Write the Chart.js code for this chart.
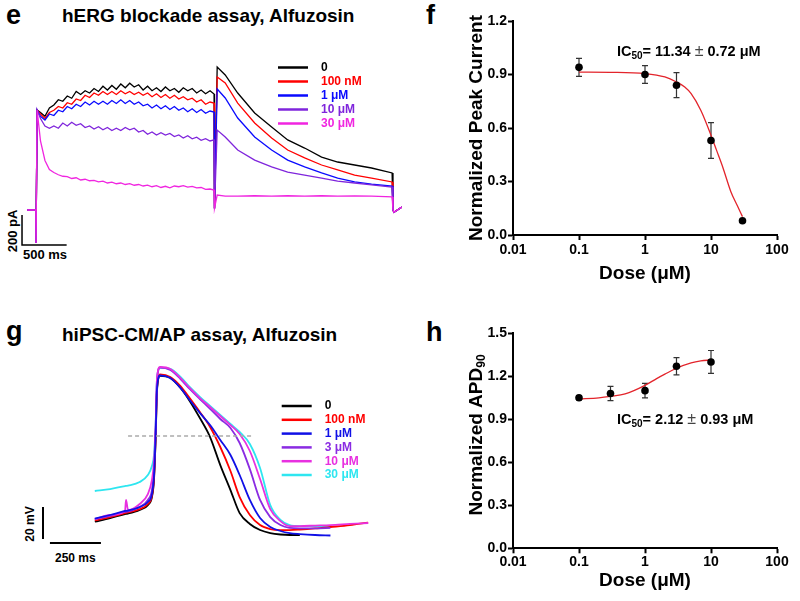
<!DOCTYPE html>
<html>
<head>
<meta charset="utf-8">
<script src="https://cdn.jsdelivr.net/npm/chart.js@4.4.1/dist/chart.umd.min.js"></script>
<style>
  body { margin: 0; background: #fff; width: 800px; height: 601px; position: relative; overflow: hidden;
         font-family: 'Liberation Sans', Arial, sans-serif; }
  canvas { position: absolute; }
  .t { position: absolute; font-weight: bold; white-space: nowrap; line-height: 1; color: #000; }
  .rot { transform: translate(-50%, -50%) rotate(-90deg); }
</style>
</head>
<body>
<div class="t" style="left:6px;top:2px;font-size:27px">e</div>
<div class="t" style="left:62px;top:6px;font-size:19px">hERG blockade assay, Alfuzosin</div>
<div class="t" style="left:426px;top:2px;font-size:27px">f</div>
<div class="t" style="left:6px;top:318px;font-size:27px">g</div>
<div class="t" style="left:62px;top:325px;font-size:19px">hiPSC-CM/AP assay, Alfuzosin</div>
<div class="t" style="left:426px;top:319px;font-size:27px">h</div>
<div class="t rot" style="left:12px;top:231px;font-size:13px">200 pA</div>
<div class="t" style="left:23px;top:248px;font-size:13px">500 ms</div>
<div class="t rot" style="left:30px;top:524px;font-size:12px">20 mV</div>
<div class="t" style="left:55px;top:552px;font-size:12px">250 ms</div>

<canvas id="herg" width="384" height="195" style="left:18px;top:60px"></canvas>
<canvas id="ic50" width="400" height="300" style="left:400px;top:0px"></canvas>
<canvas id="ap" width="367" height="208" style="left:33px;top:351px"></canvas>
<canvas id="apd" width="400" height="300" style="left:400px;top:300px"></canvas>

<script>
// ---- panel e: hERG current traces (ms, pA) ----
const hergTime = [-100, -2, 0, 12,
  50, 100, 150, 200, 250, 300, 350, 400, 450, 500, 550, 600, 650, 700, 750, 800, 850, 900, 950, 1000,
  1050, 1100, 1150, 1200, 1250, 1300, 1350, 1400, 1450, 1500, 1550, 1600, 1650, 1700, 1750, 1800, 1850, 1900, 1950,
  1995, 2000, 2030, 2120, 2260, 2450, 2640, 2820, 3010, 3200, 3380, 3570, 3760, 3990, 4000, 4010, 4100];
const herg0 = [0, 0, -220, 667,
  650, 625, 680, 700, 735, 725, 760, 745, 790, 770, 795, 780, 810, 790, 825, 800, 830, 805, 840, 815,
  845, 820, 835, 800, 825, 795, 815, 790, 820, 795, 810, 785, 815, 795, 810, 780, 800, 775, 795,
  773, 10, 953, 900, 780, 647, 553, 467, 413, 353, 320, 300, 280, 247, 0, -15, 20];
const herg100nM = [0, 0, -220, 667,
  640, 610, 650, 665, 690, 680, 715, 705, 740, 730, 765, 750, 780, 765, 790, 770, 790, 770, 795, 775,
  790, 770, 785, 765, 780, 755, 775, 750, 770, 745, 765, 740, 755, 735, 745, 720, 735, 705, 720,
  713, 10, 887, 847, 713, 580, 480, 400, 347, 300, 267, 233, 213, 187, 0, -15, 20];
const herg1uM = [0, 0, -220, 667,
  625, 600, 640, 630, 665, 655, 690, 675, 705, 690, 720, 700, 725, 705, 725, 705, 730, 710, 735, 710,
  730, 705, 720, 695, 705, 680, 700, 675, 695, 670, 690, 665, 680, 655, 675, 650, 670, 645, 660,
  653, 10, 807, 747, 613, 487, 400, 333, 287, 247, 213, 187, 173, 160, 0, -15, 20];
const herg10uM = [0, 0, -220, 667,
  610, 560, 545, 560, 545, 580, 560, 585, 565, 575, 550, 560, 540, 555, 535, 550, 530, 545, 530, 550,
  535, 545, 520, 530, 505, 520, 500, 515, 500, 510, 490, 500, 480, 495, 475, 485, 465, 475, 460,
  467, 10, 533, 487, 400, 333, 287, 253, 233, 213, 193, 180, 167, 153, 0, -15, 20];
const herg30uM = [0, 0, -220, 667,
  460, 330, 270, 250, 235, 225, 222, 210, 215, 200, 205, 195, 198, 188, 192, 180, 186, 175, 180, 170,
  176, 165, 170, 160, 166, 155, 162, 150, 158, 148, 160, 155, 162, 152, 158, 148, 150, 138, 140,
  133, 13, 100, 93, 93, 95, 92, 95, 93, 95, 92, 94, 92, 87, 0, -15, 20];
const hergLabels = ['0', '100 nM', '1 μM', '10 μM', '30 μM'];
const hergBarTime = [-157, -157, 343];   // 500 ms
const hergBarAmp = [-33, -233, -233];    // 200 pA

// ---- panel f: peak current vs dose ----
const doseF = [0.1, 1, 3, 10, 30];
const peakF = [0.94, 0.90, 0.84, 0.53, 0.08];
const semF = [0.05, 0.05, 0.07, 0.10, 0];
const fitDoseF = [0.1, 0.3, 1, 2, 3, 4, 5, 7, 10, 12, 15, 20, 25, 30];
const fitPeakF = [0.913, 0.912, 0.905, 0.886, 0.858, 0.83, 0.793, 0.70, 0.56, 0.48, 0.383, 0.243, 0.165, 0.103];

// ---- panel g: action potentials (ms, mV) ----
const apTime = [-295, -220, -147, -142, -132, -75, -35, -15, -5, 3, 10, 25, 75, 125, 170, 220, 270, 320, 370, 415,
  465, 515, 565, 615, 660, 710, 785, 860, 955, 1045];
const ap0 = [-66.7, -64.4, -61.9, -61.8, -61.6, -59.4, -56.3, -51.3, -40.6, -15.6, 15.6, 24.4, 23.1, 16.9, 8.8, -1.9, -13.8, -31.3, -46.9, -61.3,
  -68.1, -71.9, -73.8, -74.7, -75, -75, null, null, null, null];
const ap100nM = [-65.9, -63.8, -61.3, -61.1, -60.9, -58.8, -55.6, -50.6, -39.4, -14.4, 16.9, 25.3, 23.8, 18.1, 10.6, 1.9, -7.5, -20, -35, -51.3,
  -62.5, -68.8, -71.3, -71.9, -71.9, -71.6, -70.9, -70, -68.8, -67.2];
const ap1uM = [-64.7, -62.5, -60, -59.9, -59.7, -57.5, -54.4, -49.4, -38.1, -13.1, 16.9, 24.7, 23.1, 16.9, 9.4, 1.3, -6.3, -15.6, -25, -37.5,
  -53.1, -64.4, -70, -72.5, -73.8, -74.4, -75, -75.3, null, null];
const ap3uM = [-65, -63.1, -60.6, -60.5, -60.3, -57.5, -53.1, -46.9, -34.4, -9.4, 21.9, 29.7, 28.1, 22.5, 16.3, 10, 3.8, -2.5, -8.1, -17.5,
  -33.8, -53.1, -63.8, -68.8, -70.6, -70.9, -70.9, -70.6, null, null];
const ap10uM = [-65.3, -62.5, -60, -53.1, -59.4, -55.6, -49.4, -40.6, -29.4, -8.1, 23.1, 30, 28.8, 23.1, 16.9, 10.6, 5, -0.6, -6.3, -11.9,
  -22.5, -40, -58.8, -66.3, -69.4, -69.4, -69.1, -68.8, -68.1, -67.5];
const ap30uM = [-47.5, -46.3, -44.4, -44.3, -44.1, -41.9, -37.5, -31.9, -25, -6.3, 23.1, 29.4, 28.8, 23.8, 17.5, 11.3, 5.6, 0, -5.6, -10.6,
  -18.1, -33.1, -56.3, -65.6, -68.8, -69.4, -69.4, -69.4, null, null];
const apLabels = ['0', '100 nM', '1 μM', '3 μM', '10 μM', '30 μM'];
const apRefTime = [-132, 480];
const apRefV = [-13.1, -13.1];
const apBarVTime = [-549, -549];
const apBarVV = [-77.5, -57.5];   // 20 mV
const apBarHTime = [-515, -265];  // 250 ms
const apBarHV = [-80, -80];

// ---- panel h: APD90 vs dose ----
const doseH = [0.1, 0.3, 1, 3, 10];
const apdH = [1.05, 1.08, 1.10, 1.27, 1.30];
const semH = [0.015, 0.05, 0.05, 0.06, 0.08];
const fitDoseH = [0.1, 0.2, 0.3, 0.5, 1, 1.5, 2, 3, 5, 7, 10];
const fitApdH = [1.042, 1.050, 1.060, 1.077, 1.137, 1.184, 1.215, 1.256, 1.293, 1.307, 1.314];

const FONT = "'Liberation Sans', Arial, sans-serif";
Chart.defaults.font.family = FONT;
Chart.defaults.color = '#000';
Chart.defaults.animation = false;

const xy = (xs, ys) => xs.map((x, i) => ({ x: x, y: ys[i] }));

function legendPlugin(id, labels, colors, x0, y0, dy) {
  return {
    id: id,
    afterDraw(chart) {
      const ctx = chart.ctx;
      ctx.save();
      ctx.font = 'bold 12px ' + FONT;
      ctx.textBaseline = 'middle';
      labels.forEach((lab, i) => {
        const y = y0 + i * dy;
        ctx.strokeStyle = colors[i];
        ctx.lineWidth = 2.5;
        ctx.beginPath(); ctx.moveTo(x0, y); ctx.lineTo(x0 + 30, y); ctx.stroke();
        ctx.fillStyle = colors[i];
        ctx.fillText(lab, x0 + 43, y);
      });
      ctx.restore();
    }
  };
}

function textPlugin(id, x, y, parts, rotate) {
  return {
    id: id,
    afterDraw(chart) {
      const ctx = chart.ctx;
      ctx.save();
      ctx.fillStyle = '#000';
      ctx.textBaseline = rotate ? 'middle' : 'alphabetic';
      let w = 0;
      parts.forEach(p => { ctx.font = p.font; w += ctx.measureText(p.text).width; });
      ctx.translate(x, y);
      let cx = 0;
      if (rotate) { ctx.rotate(-Math.PI / 2); cx = -w / 2; }
      parts.forEach(p => {
        ctx.font = p.font;
        ctx.fillStyle = p.color || '#000';
        ctx.fillText(p.text, cx, p.dy || 0);
        cx += ctx.measureText(p.text).width;
      });
      ctx.restore();
    }
  };
}

const errorBars = {
  id: 'errorBars',
  beforeDatasetsDraw(chart) {
    const { ctx, scales: { x, y } } = chart;
    ctx.save();
    ctx.strokeStyle = '#333';
    ctx.lineWidth = 1.2;
    chart.data.datasets.forEach(ds => {
      if (!ds.errors) return;
      ds.data.forEach((p, j) => {
        const e = ds.errors[j];
        if (!e) return;
        const px = x.getPixelForValue(p.x);
        const top = y.getPixelForValue(p.y + e), bot = y.getPixelForValue(p.y - e);
        ctx.beginPath();
        ctx.moveTo(px, top); ctx.lineTo(px, bot);
        ctx.moveTo(px - 3, top); ctx.lineTo(px + 3, top);
        ctx.moveTo(px - 3, bot); ctx.lineTo(px + 3, bot);
        ctx.stroke();
      });
    });
    ctx.restore();
  }
};

function traceOptions(xmin, xmax, ymin, ymax) {
  return {
    responsive: false,
    animation: false,
    layout: { padding: 0 },
    plugins: { legend: { display: false }, tooltip: { enabled: false } },
    elements: { point: { radius: 0 }, line: { borderWidth: 1.3 } },
    scales: {
      x: { type: 'linear', display: false, min: xmin, max: xmax },
      y: { display: false, min: ymin, max: ymax }
    }
  };
}

// panel e
const hergColors = ['#000000', '#ff0000', '#0a0aff', '#7f25dc', '#f025e0'];
const hergSeries = [herg0, herg100nM, herg1uM, herg10uM, herg30uM];
new Chart(document.getElementById('herg'), {
  type: 'line',
  data: {
    datasets: hergSeries.map((s, i) => ({
      data: xy(hergTime, s), borderColor: hergColors[i], order: 5 - i, borderWidth: 1.3
    })).concat([{ data: xy(hergBarTime, hergBarAmp), borderColor: '#000', borderWidth: 1.5, order: 0 }])
  },
  options: traceOptions(-202, 4101, -300, 1000),
  plugins: [legendPlugin('hergLegend', hergLabels, hergColors, 260, 7.5, 14)]
});

// panel g
const apColors = ['#000000', '#ff0000', '#1010e6', '#8a2be2', '#e830e0', '#2ee6f0'];
const apSeries = [ap0, ap100nM, ap1uM, ap3uM, ap10uM, ap30uM];
const apOrder = [5, 4, 1, 3, 2, 6];
new Chart(document.getElementById('ap'), {
  type: 'line',
  data: {
    datasets: apSeries.map((s, i) => ({
      data: xy(apTime, s), borderColor: apColors[i], order: apOrder[i], borderWidth: 1.8,
      cubicInterpolationMode: 'monotone', spanGaps: false
    })).concat([
      { data: xy(apRefTime, apRefV), borderColor: '#aaaaaa', borderWidth: 1.5, borderDash: [4, 3], order: 0 },
      { data: xy(apBarVTime, apBarVV), borderColor: '#000', borderWidth: 2, order: 0 },
      { data: xy(apBarHTime, apBarHV), borderColor: '#000', borderWidth: 2, order: 0 }
    ])
  },
  options: traceOptions(-598, 1201, -90, 40),
  plugins: [legendPlugin('apLegend', apLabels, apColors, 248.7, 55, 13.8)]
});

// panels f and h
function doseOptions(ymax, yTitle, pad, xHeight, tickPad) {
  const axisGrid = { drawOnChartArea: false, drawTicks: true, tickLength: 5, tickColor: '#000', tickWidth: 2 };
  const border = { display: true, color: '#000', width: 2 };
  const zeroPad = s => { s.paddingTop = 0; s.paddingBottom = 0; s.paddingLeft = 0; s.paddingRight = 0; };
  return {
    responsive: false,
    animation: false,
    layout: { padding: pad },
    plugins: { legend: { display: false }, tooltip: { enabled: false } },
    scales: {
      x: {
        type: 'logarithmic', min: 0.01, max: 100,
        grid: axisGrid, border: border,
        afterBuildTicks: s => { s.ticks = [0.01, 0.1, 1, 10, 100].map(v => ({ value: v })); },
        afterFit: s => { s.height = xHeight; zeroPad(s); },
        ticks: { autoSkip: false, maxRotation: 0, padding: tickPad, color: '#000',
                 font: { size: 14, weight: 'bold' }, callback: v => String(v) },
        title: { display: true, text: 'Dose (μM)', color: '#000', padding: 0, font: { size: 19, weight: 'bold' } }
      },
      y: {
        min: 0, max: ymax,
        grid: axisGrid, border: border,
        afterFit: s => { s.width = 48; zeroPad(s); },
        ticks: { stepSize: 0.3, padding: 1, color: '#000', font: { size: 14, weight: 'bold' },
                 callback: v => v.toFixed(1) },
        title: { display: !!yTitle, text: yTitle, color: '#000', padding: 0, font: { size: 19, weight: 'bold' } }
      }
    }
  };
}

function doseData(dose, vals, errs, fitDose, fitVals) {
  return {
    datasets: [
      { data: xy(dose, vals), errors: errs, showLine: false, pointRadius: 3.8, pointBackgroundColor: '#000',
        pointBorderColor: '#000', pointBorderWidth: 0, order: 0 },
      { data: xy(fitDose, fitVals), borderColor: '#e3242b', borderWidth: 1.3, pointRadius: 0,
        cubicInterpolationMode: 'monotone', order: 1 }
    ]
  };
}

const boldF = 'bold 14.5px ' + FONT, subF = 'bold 10px ' + FONT, pmF = '16px ' + FONT;

new Chart(document.getElementById('ic50'), {
  type: 'line',
  data: doseData(doseF, peakF, semF, fitDoseF, fitPeakF),
  options: doseOptions(1.2, 'Normalized Peak Current', { left: 65, top: 21, right: 23, bottom: 14.6 }, 50.4, 1.6),
  plugins: [errorBars, textPlugin('ic50f', 217, 56, [
    { text: 'IC', font: boldF }, { text: '50', font: subF, dy: 3 }, { text: '= 11.34 ', font: boldF },
    { text: '±', font: pmF, color: '#444' }, { text: ' 0.72 μM', font: boldF }])]
});

new Chart(document.getElementById('apd'), {
  type: 'line',
  data: doseData(doseH, apdH, semH, fitDoseH, fitApdH),
  options: doseOptions(1.5, '', { left: 65, top: 33.3, right: 23, bottom: 7.6 }, 44.1, 0),
  plugins: [errorBars,
    textPlugin('ic50h', 217, 124, [
      { text: 'IC', font: boldF }, { text: '50', font: subF, dy: 3 }, { text: '= 2.12 ', font: boldF },
      { text: '±', font: pmF, color: '#444' }, { text: ' 0.93 μM', font: boldF }]),
    textPlugin('apdTitle', 76.5, 135, [
      { text: 'Normalized APD', font: 'bold 19px ' + FONT }, { text: '90', font: 'bold 12px ' + FONT, dy: 5 }], true)]
});
</script>
</body>
</html>
